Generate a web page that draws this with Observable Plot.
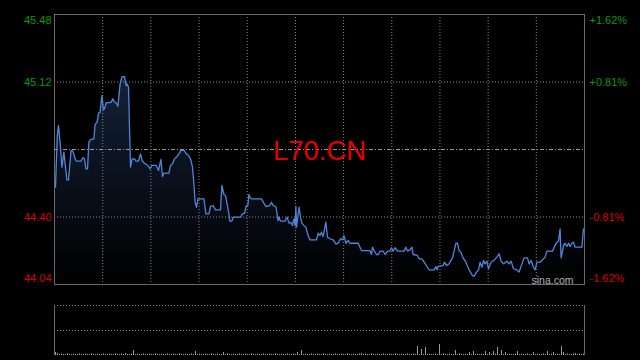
<!DOCTYPE html>
<html>
<head>
<meta charset="utf-8">
<script src="https://cdn.jsdelivr.net/npm/d3@7"></script>
<script src="https://cdn.jsdelivr.net/npm/@observablehq/plot@0.6"></script>
<style>
  html, body { margin: 0; padding: 0; background: #000; }
  #wrap { position: relative; width: 640px; height: 360px; background: #000; overflow: hidden; }
  #wrap > div, #wrap > svg { position: absolute; left: 0; }
  #price { top: 0; }
  #vol { top: 300px; }
</style>
</head>
<body>
<div id="wrap"><div id="price"></div><div id="vol"></div></div>
<script>
// ---- data ----
const symbol = "L70.CN";
const watermark = "sina.com";
const prevClose = 44.76;
const priceTicks = [45.48, 45.12, 44.40, 44.04];
const pctTicks = ["+1.62%", "+0.81%", "-0.81%", "-1.62%"];
const sessionLength = 265;
const gridSections = 11;

const times = [0.5,1.4,2,3,3.7,4.7,5.5,6.2,7,8.3,9.2,10.3,11,13.3,14.2,15,15.7,16.5,17.2,18,
19.7,20.3,21.3,22,22.8,23.7,24.5,25,25.8,28.3,29.2,30,30.8,31.7,32.8,33.8,35,35.8,36.3,37,
38,38.8,40,40.8,42,43,43.8,45,46.7,47.8,48.7,50.8,52,53.2,54,54.7,57.2,58,58.8,60,
61.3,62.2,63.3,64.7,66,67,68,69,69.7,70.3,71,71.7,74.7,75.7,77.2,78,79.3,80.5,83,83.7,
84.7,85.5,86.3,87.2,87.7,88.7,89.3,93,94,95,95.8,96.7,97.2,98,98.8,103.5,104.7,105.7,107.7,108.5,
109.3,110.7,111.8,112.3,113,115.2,116.3,117.3,118.2,119,119.7,120.3,120.7,121,121.8,122.3,123,123.7,124.7,125.7,
126.8,127.7,131,131.8,132.7,133.5,134.3,135.2,135.7,136.5,137.7,139.3,140.7,141.8,143,144,144.7,145.7,146.8,147.7,
151.8,153.5,157.7,158.5,159,159.8,161,162,162.7,164.3,165.3,166.5,167.7,168.5,169.3,170.3,171.5,174.8,175.7,176.5,
177.7,178.7,179.3,181.5,182.3,183.7,184.8,186.5,187.3,189.8,190.7,191.2,191.8,194.3,195,196,197.3,199,199.8,200.7,
201.5,202.3,203.2,204.3,205.7,207.3,209,209.8,211,212,212.8,213.7,214.5,215.3,216.2,217,218.3,219.5,221.2,222.3,
223.3,224.5,226.2,227.3,228.3,229.5,231.2,232.3,233.7,234.8,236.5,237.3,238.3,239.5,240.3,241.2,242.8,244,245.3,246.2,
249,250,251.2,252,252.8,253.3,254.5,255.3,256.2,257,257.8,258.7,259.5,260.3,263.7,264.5];

const prices = [44.559,44.835,44.888,44.772,44.666,44.746,44.666,44.598,44.598,44.755,44.751,44.710,44.698,44.698,44.716,44.710,44.657,44.657,44.799,44.813,
44.817,44.893,44.906,44.954,44.959,45.048,44.972,44.977,45.009,45.012,45.030,45.012,45.009,44.991,45.110,45.149,45.149,45.101,45.110,45.092,
44.666,44.710,44.710,44.698,44.698,44.737,44.701,44.687,44.675,44.657,44.675,44.675,44.648,44.707,44.616,44.634,44.634,44.675,44.680,44.710,
44.723,44.737,44.755,44.755,44.737,44.728,44.710,44.666,44.577,44.479,44.452,44.497,44.497,44.417,44.417,44.456,44.461,44.438,44.438,44.568,
44.520,44.515,44.470,44.417,44.378,44.378,44.399,44.399,44.417,44.420,44.458,44.461,44.520,44.500,44.497,44.497,44.474,44.456,44.461,44.479,
44.461,44.456,44.381,44.399,44.378,44.378,44.399,44.367,44.372,44.355,44.390,44.355,44.456,44.346,44.417,44.452,44.399,44.367,44.355,44.346,
44.301,44.278,44.278,44.314,44.301,44.319,44.296,44.346,44.372,44.292,44.284,44.278,44.257,44.260,44.284,44.278,44.301,44.260,44.275,44.260,
44.260,44.221,44.221,44.200,44.239,44.221,44.200,44.200,44.218,44.218,44.200,44.218,44.218,44.236,44.218,44.236,44.218,44.218,44.239,44.218,
44.225,44.239,44.200,44.195,44.177,44.177,44.159,44.132,44.118,44.118,44.136,44.118,44.136,44.141,44.159,44.141,44.150,44.182,44.218,44.260,
44.260,44.221,44.212,44.182,44.159,44.118,44.088,44.083,44.106,44.118,44.159,44.132,44.168,44.150,44.164,44.124,44.159,44.168,44.186,44.204,
44.164,44.150,44.164,44.150,44.164,44.124,44.118,44.106,44.150,44.182,44.182,44.150,44.168,44.132,44.118,44.159,44.159,44.172,44.186,44.218,
44.218,44.243,44.266,44.271,44.337,44.182,44.248,44.260,44.243,44.260,44.243,44.260,44.266,44.239,44.239,44.337];

const volumes = [
6,4,2,3,2,2,3,2,2,3,2,2,3,2,2,3,2,2,3,2,
2,3,2,2,3,2,2,3,2,2,3,2,2,3,2,4,2,2,3,10,
2,3,2,2,3,2,2,3,2,2,3,2,2,3,2,2,3,2,2,3,
2,2,3,2,2,3,2,2,3,2,8,2,3,2,2,3,2,2,3,2,
2,3,2,2,6,2,3,2,2,3,2,2,3,2,2,3,2,2,3,2,
2,3,2,2,3,2,2,3,2,2,3,2,2,3,2,2,3,2,2,3,
2,6,2,10,2,3,2,2,3,2,2,3,2,2,3,2,2,3,2,2,
3,2,2,3,2,2,3,2,2,3,2,2,3,4,2,3,2,2,3,2,
2,3,2,2,3,2,2,3,2,2,3,2,2,3,2,2,3,2,2,3,
2,18,2,12,2,16,2,3,2,2,3,2,22,2,3,2,2,3,2,2,
10,2,3,2,2,3,2,6,2,8,2,3,2,3,2,8,2,6,2,8,
3,16,2,10,2,6,2,3,2,2,3,8,2,3,2,2,3,2,2,6,
2,3,2,2,3,2,8,2,3,6,2,3,2,18,6,2,3,2,2,3,
4,2,3,2,3];

// ---- build ----
const data = times.map((t, i) => ({t, p: prices[i]}));
const vdata = volumes.map((v, i) => ({t: i + 0.5, v}));
const font = "'Liberation Sans', Arial, Helvetica, sans-serif";
const green = "#0b9a0b", red = "#d80000";
const grid = d3.range(1, gridSections).map(k => k * sessionLength / gridSections);
const labels = priceTicks.map((p, i) => ({p, i, txt: p.toFixed(2), pct: pctTicks[i]}));
const colorOf = d => d.p > prevClose ? green : red;

function sideLabels(filter, dy) {
  const sub = labels.filter(filter);
  return [
    Plot.text(sub, {y: "p", text: "txt", frameAnchor: "left", textAnchor: "end", dx: -3, dy, fill: colorOf, fontSize: 11}),
    Plot.text(sub, {y: "p", text: "pct", frameAnchor: "right", textAnchor: "start", dx: 5, dy, fill: colorOf, fontSize: 11})
  ];
}

const chart = Plot.plot({
  width: 640, height: 300,
  marginLeft: 54, marginRight: 56, marginTop: 14, marginBottom: 16,
  style: {background: "#000", color: "#aaa", fontFamily: font},
  x: {domain: [0, sessionLength], axis: null},
  y: {domain: [priceTicks[3], priceTicks[0]], axis: null},
  marks: [
    Plot.areaY(data, {x: "t", y1: priceTicks[3], y2: "p", fill: "url(#areaGrad)", curve: "linear"}),
    Plot.ruleX(grid, {stroke: "#8a8a8a", strokeDasharray: "1,2", strokeWidth: 1}),
    Plot.ruleY([priceTicks[1], priceTicks[2]], {stroke: "#8a8a8a", strokeDasharray: "1,2", strokeWidth: 1}),
    Plot.ruleY([prevClose], {stroke: "#9a9a9a", strokeDasharray: "4,2,1,2", strokeWidth: 1}),
    Plot.lineY(data, {x: "t", y: "p", stroke: "#4f86dc", strokeWidth: 1.3}),
    Plot.frame({stroke: "#6a6a6a"}),
    Plot.text([symbol], {frameAnchor: "middle", dy: 1.5, fill: "#e30000", fontSize: 27.5}),
    Plot.text([watermark], {frameAnchor: "bottom-right", textAnchor: "end", lineAnchor: "bottom", dx: -11, dy: -1, fill: "#b0b0b0", fontSize: 10.5}),
    ...sideLabels(d => d.i === 0, 6),
    ...sideLabels(d => d.i === 1 || d.i === 2, 0),
    ...sideLabels(d => d.i === 3, -6)
  ]
});

// gradient for the area fill
const svg = d3.select(chart.tagName.toLowerCase() === "svg" ? chart : chart.querySelector("svg"));
const defs = svg.insert("defs", ":first-child");
const lg = defs.append("linearGradient").attr("id", "areaGrad")
  .attr("gradientUnits", "userSpaceOnUse").attr("x1", 0).attr("x2", 0).attr("y1", 14).attr("y2", 284);
lg.append("stop").attr("offset", "0%").attr("stop-color", "#1a2b48");
lg.append("stop").attr("offset", "100%").attr("stop-color", "#000000");

document.getElementById("price").appendChild(chart);

const volChart = Plot.plot({
  width: 640, height: 60,
  marginLeft: 54, marginRight: 56, marginTop: 5, marginBottom: 5,
  style: {background: "#000", color: "#aaa", fontFamily: font},
  x: {domain: [0, sessionLength], axis: null},
  y: {domain: [0, 100], axis: null},
  marks: [
    Plot.ruleY([100, 50], {stroke: "#8a8a8a", strokeDasharray: "1,2", strokeWidth: 1}),
    Plot.ruleX([0, sessionLength], {stroke: "#6a6a6a"}),
    Plot.ruleX(vdata, {x: "t", y1: 0, y2: "v", stroke: "#9a9a9a", strokeWidth: 1})
  ]
});
document.getElementById("vol").appendChild(volChart);
</script>
</body>
</html>
